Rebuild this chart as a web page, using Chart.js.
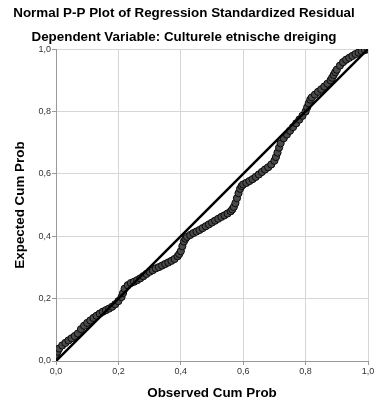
<!DOCTYPE html>
<html>
<head>
<meta charset="utf-8">
<script src="https://cdn.jsdelivr.net/npm/chart.js@4.4.1/dist/chart.umd.min.js"></script>
<style>
    html, body { margin: 0; padding: 0; background: #ffffff; }
    #wrap { width: 378px; height: 407px; position: relative; }
</style>
</head>
<body>
<div id="wrap"><canvas id="ppChart"></canvas></div>
<script>
// Observed vs expected cumulative probabilities of the standardized residuals
const obsCumProb = [
    0.00, 0.005, 0.01, 0.02, 0.03, 0.04, 0.05, 0.06, 0.07, 0.08, 0.09,
    0.10, 0.11, 0.12, 0.13, 0.14, 0.15, 0.16, 0.17, 0.18, 0.19,
    0.20, 0.21, 0.215, 0.22, 0.23, 0.24, 0.25, 0.26, 0.27, 0.28, 0.29,
    0.30, 0.31, 0.32, 0.33, 0.34, 0.35, 0.36, 0.37, 0.38, 0.39, 0.395,
    0.40, 0.405, 0.41, 0.415, 0.42, 0.43, 0.44, 0.45, 0.46, 0.47, 0.48, 0.49,
    0.50, 0.51, 0.52, 0.53, 0.54, 0.55, 0.56, 0.565, 0.57, 0.575, 0.58, 0.585, 0.59, 0.595,
    0.60, 0.61, 0.62, 0.63, 0.64, 0.65, 0.66, 0.67, 0.68, 0.69,
    0.70, 0.705, 0.71, 0.715, 0.72, 0.73, 0.74, 0.75, 0.76, 0.77, 0.78, 0.79,
    0.80, 0.805, 0.81, 0.815, 0.82, 0.83, 0.84, 0.85, 0.86, 0.87, 0.88, 0.885, 0.89, 0.895,
    0.90, 0.91, 0.92, 0.93, 0.94, 0.95, 0.96, 0.97, 0.98, 0.99, 1.00
];
const expCumProb = [
    0.020, 0.030, 0.040, 0.050, 0.058, 0.066, 0.073, 0.080, 0.088, 0.102, 0.113,
    0.122, 0.130, 0.138, 0.145, 0.152, 0.158, 0.163, 0.168, 0.174, 0.182,
    0.192, 0.205, 0.218, 0.232, 0.243, 0.250, 0.254, 0.259, 0.265, 0.272, 0.279,
    0.286, 0.291, 0.297, 0.301, 0.306, 0.311, 0.316, 0.321, 0.327, 0.336, 0.343,
    0.352, 0.368, 0.383, 0.392, 0.398, 0.404, 0.410, 0.415, 0.420, 0.426, 0.432, 0.438,
    0.444, 0.450, 0.456, 0.462, 0.467, 0.473, 0.480, 0.486, 0.494, 0.506, 0.522, 0.538, 0.552, 0.561,
    0.566, 0.571, 0.577, 0.583, 0.590, 0.598, 0.606, 0.614, 0.621, 0.630,
    0.642, 0.654, 0.668, 0.684, 0.698, 0.714, 0.726, 0.738, 0.750, 0.762, 0.774, 0.786,
    0.800, 0.813, 0.826, 0.838, 0.845, 0.854, 0.863, 0.871, 0.880, 0.889, 0.900, 0.908, 0.917, 0.926,
    0.934, 0.947, 0.958, 0.966, 0.972, 0.978, 0.984, 0.989, 0.993, 0.997, 0.999
];
// Reference line of a perfect normal fit
const refLineX = [0, 1];
const refLineY = [0, 1];
const axisTicks = [0, 0.2, 0.4, 0.6, 0.8, 1.0];

const fmt = v => v.toFixed(1).replace('.', ',');
const boldFont = { family: 'Liberation Sans, Arial, sans-serif', size: 13.4, weight: 'bold' };
const tickFont = { family: 'Liberation Sans, Arial, sans-serif', size: 9 };

const ctx = document.getElementById('ppChart').getContext('2d');
const ppChart = new Chart(ctx, {
    type: 'scatter',
    data: {
        datasets: [{
            type: 'line',
            data: refLineX.map((x, i) => ({ x: x, y: refLineY[i] })),
            borderColor: '#000000',
            borderWidth: 2.5,
            pointRadius: 0,
            fill: false
        }, {
            data: obsCumProb.map((x, i) => ({ x: x, y: expCumProb[i] })),
            backgroundColor: '#4a4a4a',
            borderColor: '#0a0a0a',
            borderWidth: 1,
            pointRadius: 3.6
        }]
    },
    options: {
        responsive: true,
        maintainAspectRatio: false,
        animation: false,
        layout: { padding: { left: 0, right: 10, top: 0, bottom: 0 } },
        plugins: {
            legend: { display: false },
            tooltip: { enabled: false },
            title: {
                display: true,
                text: 'Normal P-P Plot of Regression Standardized Residual',
                color: '#000000',
                font: boldFont,
                padding: { top: 5, bottom: 8.4 }
            },
            subtitle: {
                display: true,
                text: 'Dependent Variable: Culturele etnische dreiging',
                color: '#000000',
                font: boldFont,
                padding: { top: 0, bottom: 3.5 }
            }
        },
        scales: {
            x: {
                type: 'linear',
                min: 0,
                max: 1,
                afterFit: scale => { scale.height = 46; },
                afterBuildTicks: scale => { scale.ticks = axisTicks.map(v => ({ value: v })); },
                ticks: {
                    callback: v => fmt(v),
                    color: '#333333',
                    font: tickFont,
                    padding: 1,
                    maxRotation: 0
                },
                grid: { color: '#d6d6d6', tickColor: '#999999', tickLength: 4 },
                border: { color: '#999999' },
                title: {
                    display: true,
                    text: 'Observed Cum Prob',
                    color: '#000000',
                    font: boldFont,
                    padding: { top: 0, bottom: 6 }
                }
            },
            y: {
                type: 'linear',
                min: 0,
                max: 1,
                afterFit: scale => { scale.width = 56; },
                afterBuildTicks: scale => { scale.ticks = axisTicks.map(v => ({ value: v })); },
                ticks: {
                    callback: v => fmt(v),
                    color: '#333333',
                    font: tickFont,
                    padding: 1
                },
                grid: { color: '#d6d6d6', tickColor: '#999999', tickLength: 4 },
                border: { color: '#999999' },
                title: {
                    display: true,
                    text: 'Expected Cum Prob',
                    color: '#000000',
                    font: boldFont,
                    padding: { top: 12, bottom: 0 }
                }
            }
        }
    }
});
</script>
</body>
</html>
